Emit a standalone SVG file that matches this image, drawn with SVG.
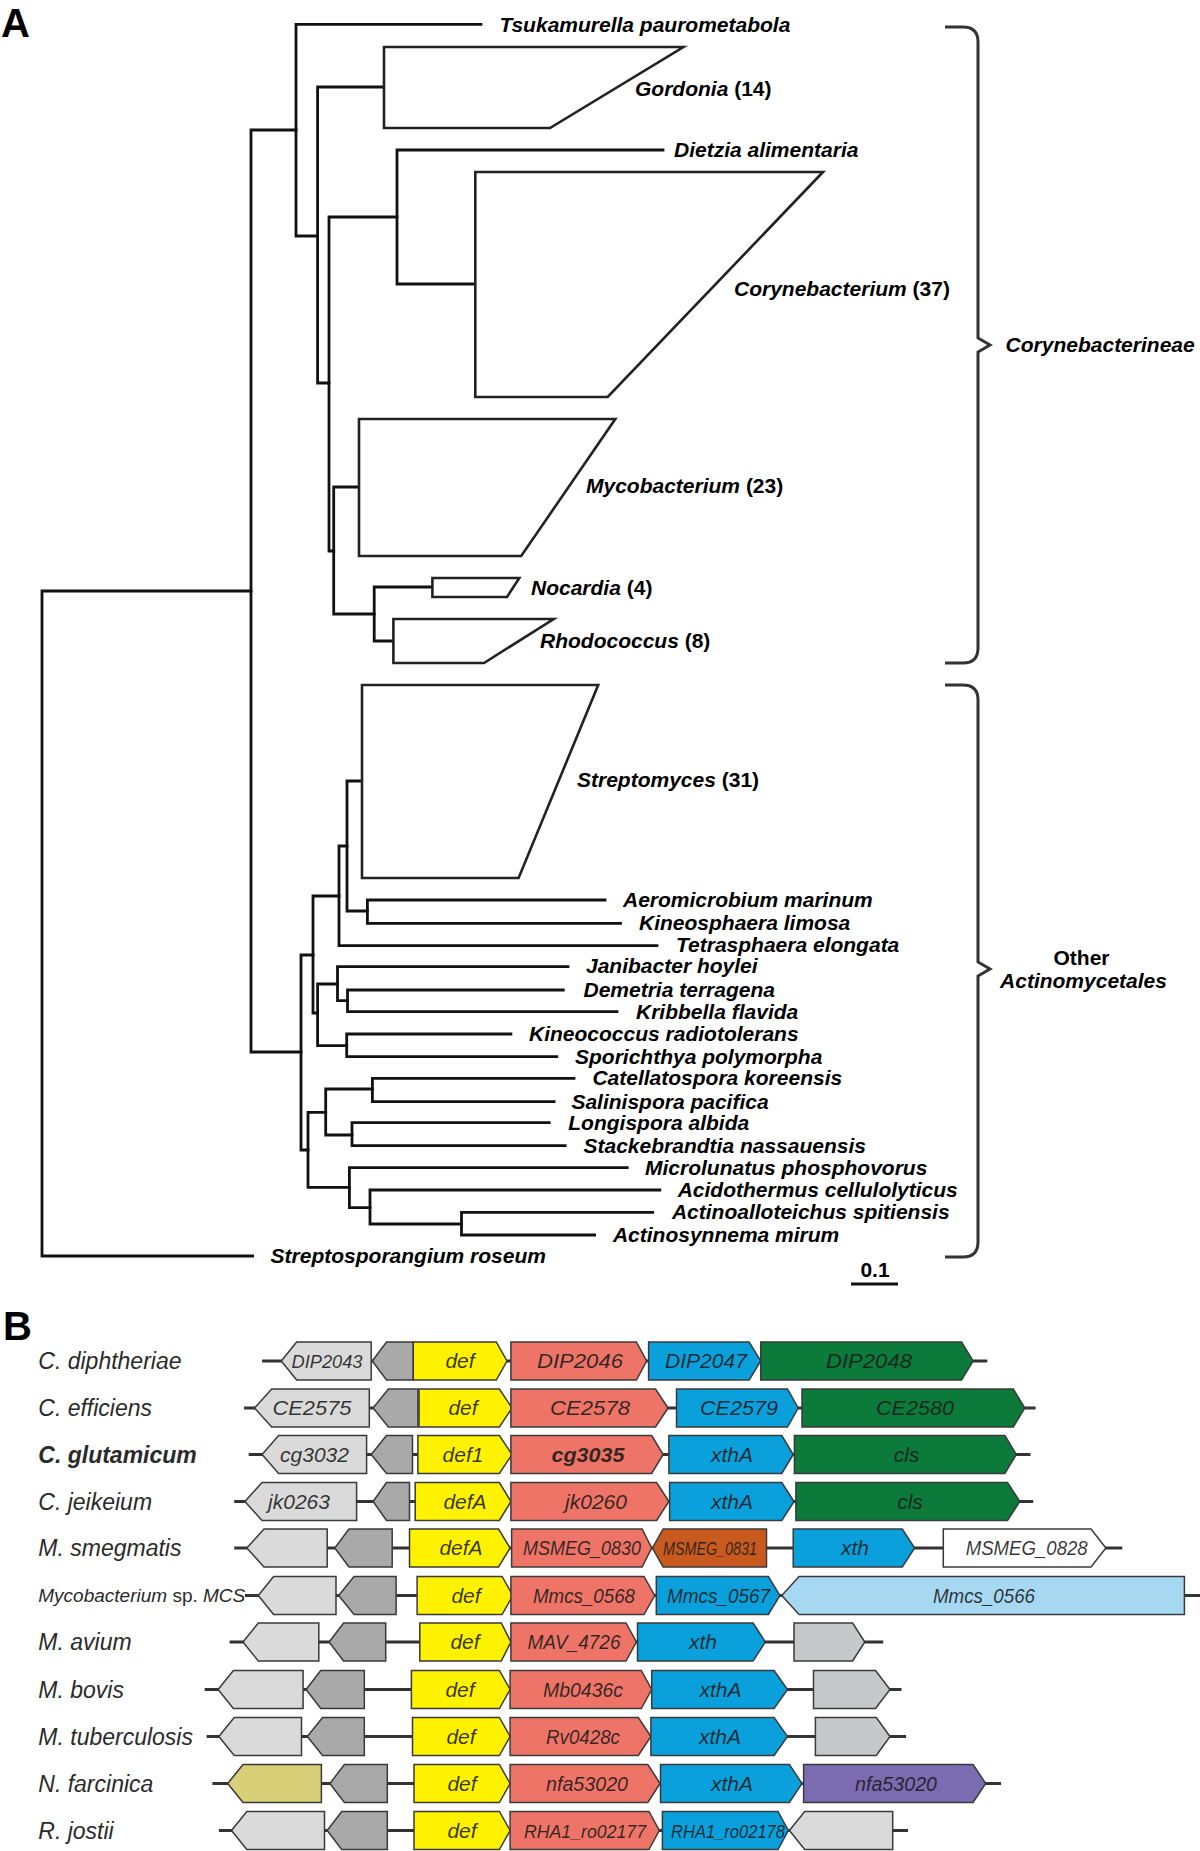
<svg xmlns="http://www.w3.org/2000/svg" width="1200" height="1851" viewBox="0 0 1200 1851">
<style>
.br{fill:none;stroke:#111;stroke-width:2.8;stroke-linejoin:miter;stroke-linecap:square}
.tz{fill:#fff;stroke:#222;stroke-width:2.6;stroke-linejoin:miter}
.brace{fill:none;stroke:#333;stroke-width:3}
.lf{font-family:"Liberation Sans",Arial,sans-serif;font-style:italic;font-weight:bold;font-size:21px;fill:#000}
.n{font-style:normal}
.pl{font-family:"Liberation Sans",Arial,sans-serif;font-weight:bold;font-size:40px;fill:#000}
.sp{font-family:"Liberation Sans",Arial,sans-serif;font-style:italic;font-size:23px;fill:#2a2a2a}
.gl{font-family:"Liberation Sans",Arial,sans-serif;font-style:italic;font-size:21px;fill:#1a1a1a;fill-opacity:0.88;text-anchor:middle}
.bb{stroke:#333;stroke-width:3}
.g polygon{stroke:#3a3a3a;stroke-width:1.5}
.lg{fill:#dadada}.dg{fill:#a9a9a9}.ye{fill:#fff200}.sa{fill:#ee7467}.bl{fill:#0aa0dc}.gr{fill:#0b7a3b}
.bn{fill:#c85a1f}.wh{fill:#fff}.lb{fill:#a6d8f2}.mg{fill:#c7c8c9}.kh{fill:#d8cf78}.pu{fill:#7b6bb1}
</style>

<text class="pl" x="1" y="37">A</text>
<text class="pl" x="3" y="1340">B</text>

<!-- Panel A: tree branches -->
<g id="tree-branches">
<path class="br" d="M251,591 H42 V1256 H252.6"/>
<path class="br" d="M296,130 H251 V1052 H301"/>
<path class="br" d="M481,24.3 H296 V236 H317.6"/>
<path class="br" d="M384,87 H317.6 V383 H329"/>
<path class="br" d="M397,217 H329 V551 H333.7"/>
<path class="br" d="M663,150 H397 V284 H475.3"/>
<path class="br" d="M359,487 H333.7 V614 H374.2"/>
<path class="br" d="M432.4,587 H374.2 V641 H393.4"/>
<path class="br" d="M313,955 H301 V1150 H308"/>
<path class="br" d="M339,896 H313 V1013 H317.6"/>
<path class="br" d="M347,846 H339 V945.7 H657"/>
<path class="br" d="M362,781 H347 V911 H367.4"/>
<path class="br" d="M605,900 H367.4 V923.3 H620.5"/>
<path class="br" d="M337.5,984 H317.6 V1045.7 H346.7"/>
<path class="br" d="M568,966.7 H337.5 V1000.7 H347.5"/>
<path class="br" d="M563.3,990 H347.5 V1011.7 H617"/>
<path class="br" d="M510.9,1034 H346.7 V1056.7 H556.8"/>
<path class="br" d="M325.7,1112.3 H308 V1187.3 H349.4"/>
<path class="br" d="M372.4,1089 H325.7 V1135 H352"/>
<path class="br" d="M574,1078.3 H372.4 V1101.7 H554.1"/>
<path class="br" d="M549.2,1122.7 H352 V1145.7 H565.2"/>
<path class="br" d="M627.2,1167.7 H349.4 V1207.7 H370"/>
<path class="br" d="M659.8,1190 H370 V1224 H461.5"/>
<path class="br" d="M652.7,1212.3 H461.5 V1235 H594.6"/>
</g>

<!-- collapsed clades -->
<g id="clade-gordonia"><path class="tz" d="M683.4,47 H384 V128 H550 Z"/><text class="lf" x="635" y="96">Gordonia<tspan class="n"> (14)</tspan></text></g>
<g id="clade-corynebacterium"><path class="tz" d="M823,172 H475.3 V397 H607.7 Z"/><text class="lf" x="734" y="296">Corynebacterium<tspan class="n"> (37)</tspan></text></g>
<g id="clade-mycobacterium"><path class="tz" d="M615.3,419 H359 V556 H521.2 Z"/><text class="lf" x="586" y="493">Mycobacterium<tspan class="n"> (23)</tspan></text></g>
<g id="clade-nocardia"><path class="tz" d="M519.3,578 H432.4 V597 H507 Z"/><text class="lf" x="531" y="595">Nocardia<tspan class="n"> (4)</tspan></text></g>
<g id="clade-rhodococcus"><path class="tz" d="M553.7,619 H393.4 V663 H484 Z"/><text class="lf" x="540" y="648">Rhodococcus<tspan class="n"> (8)</tspan></text></g>
<g id="clade-streptomyces"><path class="tz" d="M598.2,685 H362 V878 H518.6 Z"/><text class="lf" x="577" y="787">Streptomyces<tspan class="n"> (31)</tspan></text></g>

<!-- leaves -->
<g id="leaf-tsukamurella"><text class="lf" x="499.4" y="32">Tsukamurella paurometabola</text></g>
<g id="leaf-dietzia"><text class="lf" x="674" y="157">Dietzia alimentaria</text></g>
<g id="leaf-aeromicrobium"><text class="lf" x="623" y="907">Aeromicrobium marinum</text></g>
<g id="leaf-kineosphaera"><text class="lf" x="639" y="930">Kineosphaera limosa</text></g>
<g id="leaf-tetrasphaera"><text class="lf" x="676" y="952">Tetrasphaera elongata</text></g>
<g id="leaf-janibacter"><text class="lf" x="586" y="973">Janibacter hoylei</text></g>
<g id="leaf-demetria"><text class="lf" x="583.5" y="997">Demetria terragena</text></g>
<g id="leaf-kribbella"><text class="lf" x="636" y="1019">Kribbella flavida</text></g>
<g id="leaf-kineococcus"><text class="lf" x="529" y="1041">Kineococcus radiotolerans</text></g>
<g id="leaf-sporichthya"><text class="lf" x="575" y="1064">Sporichthya polymorpha</text></g>
<g id="leaf-catellatospora"><text class="lf" x="592.4" y="1085">Catellatospora koreensis</text></g>
<g id="leaf-salinispora"><text class="lf" x="571.4" y="1109">Salinispora pacifica</text></g>
<g id="leaf-longispora"><text class="lf" x="568.3" y="1130">Longispora albida</text></g>
<g id="leaf-stackebrandtia"><text class="lf" x="583.5" y="1153">Stackebrandtia nassauensis</text></g>
<g id="leaf-microlunatus"><text class="lf" x="645" y="1175">Microlunatus phosphovorus</text></g>
<g id="leaf-acidothermus"><text class="lf" x="677.7" y="1197">Acidothermus cellulolyticus</text></g>
<g id="leaf-actinoalloteichus"><text class="lf" x="671.9" y="1219">Actinoalloteichus spitiensis</text></g>
<g id="leaf-actinosynnema"><text class="lf" x="612.9" y="1242">Actinosynnema mirum</text></g>
<g id="leaf-streptosporangium"><text class="lf" x="270.6" y="1263">Streptosporangium roseum</text></g>

<!-- braces -->
<g id="group-corynebacterineae">
<path class="brace" d="M945,27 H963 Q978,27 978,42 V338 L990,345 L978,352 V648 Q978,663 963,663 H945"/>
<text class="lf" x="1005.6" y="352">Corynebacterineae</text>
</g>
<g id="group-other">
<path class="brace" d="M945,685 H963 Q978,685 978,700 V962 L990,969 L978,976 V1242 Q978,1257 963,1257 H945"/>
<text class="lf n" x="1081.5" y="965" text-anchor="middle">Other</text>
<text class="lf" x="1083.5" y="988" text-anchor="middle">Actinomycetales</text>
</g>

<g id="scale-bar">
<text class="lf n" x="875" y="1277" text-anchor="middle">0.1</text>
<path d="M851,1284 H898" stroke="#111" stroke-width="3"/>
</g>

<!-- Panel B -->
<g id="species-labels">
<text class="sp" x="38.3" y="1369">C. diphtheriae</text>
<text class="sp" x="38.3" y="1416">C. efficiens</text>
<text class="sp" x="38.3" y="1462.5" font-weight="bold">C. glutamicum</text>
<text class="sp" x="38.3" y="1509.5">C. jeikeium</text>
<text class="sp" x="38.3" y="1556">M. smegmatis</text>
<text class="sp" x="38.3" y="1602" style="font-size:19px">Mycobacterium<tspan font-style="normal"> sp. </tspan>MCS</text>
<text class="sp" x="38.3" y="1650">M. avium</text>
<text class="sp" x="38.3" y="1697.5">M. bovis</text>
<text class="sp" x="38.3" y="1744.5">M. tuberculosis</text>
<text class="sp" x="38.3" y="1791.5">N. farcinica</text>
<text class="sp" x="38.3" y="1838.5">R. jostii</text>
</g>

<g id="backbones">
<line class="bb" x1="262.1" y1="1361" x2="987.3" y2="1361"/>
<line class="bb" x1="244.1" y1="1408" x2="1035.5" y2="1408"/>
<line class="bb" x1="248.7" y1="1454.5" x2="1030.5" y2="1454.5"/>
<line class="bb" x1="234.2" y1="1501.5" x2="1033.2" y2="1501.5"/>
<line class="bb" x1="234.2" y1="1548" x2="1122.3" y2="1548"/>
<line class="bb" x1="244.9" y1="1595.5" x2="1200" y2="1595.5"/>
<line class="bb" x1="229.6" y1="1642" x2="883.2" y2="1642"/>
<line class="bb" x1="204.7" y1="1689.5" x2="901.5" y2="1689.5"/>
<line class="bb" x1="206.6" y1="1736.5" x2="906.1" y2="1736.5"/>
<line class="bb" x1="212.4" y1="1783.5" x2="1001" y2="1783.5"/>
<line class="bb" x1="218.9" y1="1830.5" x2="908" y2="1830.5"/>
</g>

<g id="row-c-diphtheriae" class="g" transform="translate(0,1361)">
<g id="DIP2043"><polygon class="lg" points="281.3,0 296.6,-19 371.2,-19 371.2,19 296.6,19"/><text class="gl" x="327" y="7" style="font-size:19px" textLength="71" lengthAdjust="spacingAndGlyphs">DIP2043</text></g>
<g id="r1-dg"><polygon class="dg" points="372.3,0 386.5,-19 413.3,-19 413.3,19 386.5,19"/></g>
<g id="r1-def"><polygon class="ye" points="413.3,-19 496.3,-19 507,0 496.3,19 413.3,19"/><text class="gl" x="460" y="7">def</text></g>
<g id="DIP2046"><polygon class="sa" points="510.9,-19 636.4,-19 646.7,0 636.4,19 510.9,19"/><text class="gl" x="580" y="7" textLength="86" lengthAdjust="spacingAndGlyphs">DIP2046</text></g>
<g id="DIP2047"><polygon class="bl" points="648.6,-19 749.2,-19 760.7,0 749.2,19 648.6,19"/><text class="gl" x="706" y="7" textLength="82" lengthAdjust="spacingAndGlyphs">DIP2047</text></g>
<g id="DIP2048"><polygon class="gr" points="760.7,-19 961.6,-19 973.1,0 961.6,19 760.7,19"/><text class="gl" x="869" y="7" textLength="86" lengthAdjust="spacingAndGlyphs">DIP2048</text></g>
</g>

<g id="row-c-efficiens" class="g" transform="translate(0,1408)">
<g id="CE2575"><polygon class="lg" points="254.5,0 271.7,-19 369.3,-19 369.3,19 271.7,19"/><text class="gl" x="312" y="7" textLength="79" lengthAdjust="spacingAndGlyphs">CE2575</text></g>
<g id="r2-dg"><polygon class="dg" points="373.1,0 388.4,-19 417.9,-19 417.9,19 388.4,19"/></g>
<g id="r2-def"><polygon class="ye" points="419,-19 499.4,-19 512,0 499.4,19 419,19"/><text class="gl" x="463" y="7">def</text></g>
<g id="CE2578"><polygon class="sa" points="510.9,-19 655.5,-19 668.1,0 655.5,19 510.9,19"/><text class="gl" x="590" y="7" textLength="80" lengthAdjust="spacingAndGlyphs">CE2578</text></g>
<g id="CE2579"><polygon class="bl" points="676.5,-19 787.5,-19 798.2,0 787.5,19 676.5,19"/><text class="gl" x="739" y="7" textLength="78" lengthAdjust="spacingAndGlyphs">CE2579</text></g>
<g id="CE2580"><polygon class="gr" points="802,-19 1013.3,-19 1024.8,0 1013.3,19 802,19"/><text class="gl" x="915" y="7" textLength="78" lengthAdjust="spacingAndGlyphs">CE2580</text></g>
</g>

<g id="row-c-glutamicum" class="g" transform="translate(0,1454.5)">
<g id="cg3032"><polygon class="lg" points="262.1,0 278.6,-19 366.6,-19 366.6,19 278.6,19"/><text class="gl" x="314.5" y="7">cg3032</text></g>
<g id="r3-dg"><polygon class="dg" points="371.2,0 386.5,-19 412.5,-19 412.5,19 386.5,19"/></g>
<g id="def1"><polygon class="ye" points="417.9,-19 499.4,-19 512,0 499.4,19 417.9,19"/><text class="gl" x="463" y="7">def1</text></g>
<g id="cg3035"><polygon class="sa" points="510.9,-19 651.7,-19 663.1,0 651.7,19 510.9,19"/><text class="gl" x="588" y="7" font-weight="bold" textLength="73" lengthAdjust="spacingAndGlyphs">cg3035</text></g>
<g id="r3-xthA"><polygon class="bl" points="668.9,-19 781.8,-19 793.2,0 781.8,19 668.9,19"/><text class="gl" x="732" y="7">xthA</text></g>
<g id="r3-cls"><polygon class="gr" points="794.4,-19 1004.9,-19 1016.3,0 1004.9,19 794.4,19"/><text class="gl" x="906.7" y="7">cls</text></g>
</g>

<g id="row-c-jeikeium" class="g" transform="translate(0,1501.5)">
<g id="jk0263"><polygon class="lg" points="244.9,0 262.1,-19 356.6,-19 356.6,19 262.1,19"/><text class="gl" x="299" y="7">jk0263</text></g>
<g id="r4-dg"><polygon class="dg" points="373.1,0 386.5,-19 409.5,-19 409.5,19 386.5,19"/></g>
<g id="r4-defA"><polygon class="ye" points="415.2,-19 499.4,-19 510.9,0 499.4,19 415.2,19"/><text class="gl" x="465" y="7">defA</text></g>
<g id="jk0260"><polygon class="sa" points="510.9,-19 656.6,-19 668.9,0 656.6,19 510.9,19"/><text class="gl" x="596" y="7">jk0260</text></g>
<g id="r4-xthA"><polygon class="bl" points="669.6,-19 781.8,-19 794,0 781.8,19 669.6,19"/><text class="gl" x="732" y="7">xthA</text></g>
<g id="r4-cls"><polygon class="gr" points="795.9,-19 1007.5,-19 1019.8,0 1007.5,19 795.9,19"/><text class="gl" x="910" y="7">cls</text></g>
</g>

<g id="row-m-smegmatis" class="g" transform="translate(0,1548)">
<g id="r5-lg"><polygon class="lg" points="246.8,0 264,-19 327.2,-19 327.2,19 264,19"/></g>
<g id="r5-dg"><polygon class="dg" points="334.8,0 349,-19 392.2,-19 392.2,19 349,19"/></g>
<g id="r5-defA"><polygon class="ye" points="409.5,-19 498.6,-19 510.1,0 498.6,19 409.5,19"/><text class="gl" x="461" y="7">defA</text></g>
<g id="MSMEG_0830"><polygon class="sa" points="511.6,-19 642.1,-19 651.7,0 642.1,19 511.6,19"/><text class="gl" x="582" y="7" textLength="118" lengthAdjust="spacingAndGlyphs">MSMEG_0830</text></g>
<g id="MSMEG_0831"><polygon class="bn" points="652.4,0 663.1,-19 766.5,-19 766.5,19 663.1,19"/><text class="gl" x="710" y="6.5" style="font-size:18px" textLength="94" lengthAdjust="spacingAndGlyphs">MSMEG_0831</text></g>
<g id="r5-xth"><polygon class="bl" points="793.2,-19 902.3,-19 914.6,0 902.3,19 793.2,19"/><text class="gl" x="855" y="7">xth</text></g>
<g id="MSMEG_0828"><polygon class="wh" points="943.3,-19 1091,-19 1105.9,0 1091,19 943.3,19"/><text class="gl" x="1026.7" y="7" textLength="122" lengthAdjust="spacingAndGlyphs">MSMEG_0828</text></g>
</g>

<g id="row-mycobacterium-mcs" class="g" transform="translate(0,1595.5)">
<g id="r6-lg"><polygon class="lg" points="258.3,0 273.6,-19 336,-19 336,19 273.6,19"/></g>
<g id="r6-dg"><polygon class="dg" points="338.7,0 354,-19 396.1,-19 396.1,19 354,19"/></g>
<g id="r6-def"><polygon class="ye" points="417.1,-19 502.1,-19 512.8,0 502.1,19 417.1,19"/><text class="gl" x="466" y="7">def</text></g>
<g id="Mmcs_0568"><polygon class="sa" points="510.9,-19 644,-19 654.7,0 644,19 510.9,19"/><text class="gl" x="584" y="7" textLength="102" lengthAdjust="spacingAndGlyphs">Mmcs_0568</text></g>
<g id="Mmcs_0567"><polygon class="bl" points="656.3,-19 768.4,-19 779.9,0 768.4,19 656.3,19"/><text class="gl" x="718.5" y="7" textLength="103" lengthAdjust="spacingAndGlyphs">Mmcs_0567</text></g>
<g id="Mmcs_0566"><polygon class="lb" points="781.8,0 799,-19 1184.4,-19 1184.4,19 799,19"/><text class="gl" x="984" y="7" textLength="102" lengthAdjust="spacingAndGlyphs">Mmcs_0566</text></g>
</g>

<g id="row-m-avium" class="g" transform="translate(0,1642)">
<g id="r7-lg"><polygon class="lg" points="243,0 258.3,-19 318.8,-19 318.8,19 258.3,19"/></g>
<g id="r7-dg"><polygon class="dg" points="329.1,0 343.6,-19 385.7,-19 385.7,19 343.6,19"/></g>
<g id="r7-def"><polygon class="ye" points="419.8,-19 501.3,-19 510.9,0 501.3,19 419.8,19"/><text class="gl" x="465" y="7">def</text></g>
<g id="MAV_4726"><polygon class="sa" points="510.9,-19 626,-19 636.4,0 626,19 510.9,19"/><text class="gl" x="574" y="7" textLength="93" lengthAdjust="spacingAndGlyphs">MAV_4726</text></g>
<g id="r7-xth"><polygon class="bl" points="637.5,-19 753.1,-19 765.3,0 753.1,19 637.5,19"/><text class="gl" x="703" y="7">xth</text></g>
<g id="r7-mg"><polygon class="mg" points="794,-19 852.6,-19 864.8,0 852.6,19 794,19"/></g>
</g>

<g id="row-m-bovis" class="g" transform="translate(0,1689.5)">
<g id="r8-lg"><polygon class="lg" points="218.1,0 233.4,-19 303.1,-19 303.1,19 233.4,19"/></g>
<g id="r8-dg"><polygon class="dg" points="306.1,0 320.7,-19 364.3,-19 364.3,19 320.7,19"/></g>
<g id="r8-def"><polygon class="ye" points="411.4,-19 499.4,-19 510.1,0 499.4,19 411.4,19"/><text class="gl" x="460" y="7">def</text></g>
<g id="Mb0436c"><polygon class="sa" points="510.1,-19 641.3,-19 651.7,0 641.3,19 510.1,19"/><text class="gl" x="583" y="7" textLength="80" lengthAdjust="spacingAndGlyphs">Mb0436c</text></g>
<g id="r8-xthA"><polygon class="bl" points="651.7,-19 774.1,-19 787.5,0 774.1,19 651.7,19"/><text class="gl" x="720.5" y="7">xthA</text></g>
<g id="r8-mg"><polygon class="mg" points="813.5,-19 875.5,-19 890,0 875.5,19 813.5,19"/></g>
</g>

<g id="row-m-tuberculosis" class="g" transform="translate(0,1736.5)">
<g id="r9-lg"><polygon class="lg" points="218.9,0 234.2,-19 301.5,-19 301.5,19 234.2,19"/></g>
<g id="r9-dg"><polygon class="dg" points="307.3,0 322.6,-19 364.3,-19 364.3,19 322.6,19"/></g>
<g id="r9-def"><polygon class="ye" points="412.5,-19 499.4,-19 510.1,0 499.4,19 412.5,19"/><text class="gl" x="461" y="7">def</text></g>
<g id="Rv0428c"><polygon class="sa" points="510.1,-19 638.3,-19 650.9,0 638.3,19 510.1,19"/><text class="gl" x="583" y="7" textLength="74" lengthAdjust="spacingAndGlyphs">Rv0428c</text></g>
<g id="r9-xthA"><polygon class="bl" points="650.9,-19 774.1,-19 787.5,0 774.1,19 650.9,19"/><text class="gl" x="720" y="7">xthA</text></g>
<g id="r9-mg"><polygon class="mg" points="815.4,-19 876.3,-19 890,0 876.3,19 815.4,19"/></g>
</g>

<g id="row-n-farcinica" class="g" transform="translate(0,1783.5)">
<g id="r10-kh"><polygon class="kh" points="227.7,0 243,-19 321.4,-19 321.4,19 243,19"/></g>
<g id="r10-dg"><polygon class="dg" points="329.9,0 344.4,-19 387.3,-19 387.3,19 344.4,19"/></g>
<g id="r10-def"><polygon class="ye" points="414,-19 499.4,-19 510.1,0 499.4,19 414,19"/><text class="gl" x="462" y="7">def</text></g>
<g id="nfa53020-a"><polygon class="sa" points="510.1,-19 647.8,-19 660.1,0 647.8,19 510.1,19"/><text class="gl" x="587" y="7" textLength="82" lengthAdjust="spacingAndGlyphs">nfa53020</text></g>
<g id="r10-xthA"><polygon class="bl" points="660.5,-19 789.4,-19 802,0 789.4,19 660.5,19"/><text class="gl" x="732" y="7">xthA</text></g>
<g id="nfa53020-b"><polygon class="pu" points="803.6,-19 973.1,-19 985.7,0 973.1,19 803.6,19"/><text class="gl" x="896" y="7" textLength="82" lengthAdjust="spacingAndGlyphs">nfa53020</text></g>
</g>

<g id="row-r-jostii" class="g" transform="translate(0,1830.5)">
<g id="r11-lg"><polygon class="lg" points="231.5,0 246.8,-19 324.5,-19 324.5,19 246.8,19"/></g>
<g id="r11-dg"><polygon class="dg" points="327.2,0 341.7,-19 387.3,-19 387.3,19 341.7,19"/></g>
<g id="r11-def"><polygon class="ye" points="414,-19 499.4,-19 510.1,0 499.4,19 414,19"/><text class="gl" x="462" y="7">def</text></g>
<g id="RHA1_ro02177"><polygon class="sa" points="510.1,-19 649,-19 659.3,0 649,19 510.1,19"/><text class="gl" x="585" y="7" style="font-size:19px" textLength="122" lengthAdjust="spacingAndGlyphs">RHA1_ro02177</text></g>
<g id="RHA1_ro02178"><polygon class="bl" points="662.4,-19 778,-19 788.3,0 778,19 662.4,19"/><text class="gl" x="728" y="7" style="font-size:19px" textLength="114" lengthAdjust="spacingAndGlyphs">RHA1_ro02178</text></g>
<g id="r11-lg2"><polygon class="lg" points="789.4,0 804.7,-19 892.7,-19 892.7,19 804.7,19"/></g>
</g>
</svg>
